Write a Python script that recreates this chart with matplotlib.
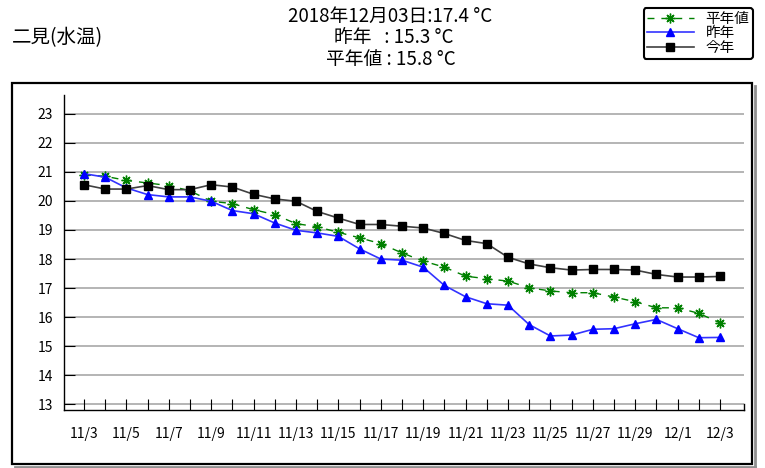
import matplotlib.pyplot as plt
from matplotlib.patches import Rectangle
from matplotlib.lines import Line2D
import numpy as np

plt.rcParams['font.family'] = ['Noto Sans CJK JP', 'DejaVu Sans']

dates = ['11/3', '11/4', '11/5', '11/6', '11/7', '11/8', '11/9', '11/10', '11/11', '11/12',
         '11/13', '11/14', '11/15', '11/16', '11/17', '11/18', '11/19', '11/20', '11/21', '11/22',
         '11/23', '11/24', '11/25', '11/26', '11/27', '11/28', '11/29', '11/30', '12/1', '12/2', '12/3']

heinen = [20.90, 20.85, 20.71, 20.62, 20.53, 20.35, 19.99, 19.91, 19.70, 19.53,
          19.22, 19.11, 18.92, 18.73, 18.53, 18.21, 17.93, 17.72, 17.41, 17.32,
          17.24, 17.01, 16.90, 16.84, 16.84, 16.69, 16.53, 16.32, 16.32, 16.13, 15.8]

sakunen = [20.94, 20.82, 20.45, 20.22, 20.14, 20.14, 19.99, 19.67, 19.56, 19.24,
           18.99, 18.90, 18.78, 18.35, 18.00, 17.96, 17.72, 17.09, 16.70, 16.46,
           16.41, 15.74, 15.35, 15.38, 15.58, 15.60, 15.77, 15.92, 15.60, 15.29, 15.3]

konnen = [20.56, 20.41, 20.41, 20.53, 20.39, 20.39, 20.56, 20.48, 20.23, 20.07,
          19.99, 19.64, 19.41, 19.19, 19.19, 19.13, 19.07, 18.88, 18.64, 18.53,
          18.06, 17.83, 17.70, 17.62, 17.64, 17.64, 17.62, 17.47, 17.38, 17.38, 17.4]

yticks = list(range(13, 24))

fig = plt.figure(figsize=(7.65, 4.68), dpi=100)
ax = fig.add_axes([64/765, 1 - 410/468, (744 - 64)/765, (410 - 95)/468])

x = np.arange(len(dates))

for yv in yticks:
    ax.axhline(yv, color='#a8a8a8', lw=1.2, zorder=0)

l1, = ax.plot(x, heinen, color='#008000', ls=(0, (5, 5)), lw=1, marker=(8, 2, 0),
              ms=7, mec='#008000', mew=1, label='平年値')
l2, = ax.plot(x, sakunen, color='#3333ff', lw=1.2, marker='^', ms=6,
              mfc='#0000ff', mec='#0000ff', label='昨年')
l3, = ax.plot(x, konnen, color='#404040', lw=1.2, marker='s', ms=5.5,
              mfc='black', mec='black', label='今年')

ax.set_xlim(-0.94, 31.13)
ax.set_ylim(12.8, 23.65)
ax.set_yticks(yticks)
ax.set_xticks(x)
ax.set_xticklabels([d if i % 2 == 0 else '' for i, d in enumerate(dates)])
ax.tick_params(axis='y', direction='in', length=8, labelsize=10, pad=8)
ax.tick_params(axis='x', direction='in', length=8, labelsize=10, pad=12)
for s in ['top', 'right']:
    ax.spines[s].set_visible(False)
ax.spines['left'].set_linewidth(1)
ax.spines['bottom'].set_linewidth(1)
ax.plot([31.13, 31.13], [12.8, 13], color='black', lw=1, clip_on=False)

fig.text(12/765, 1 - 38/468, '二見(水温)', fontsize=14, va='center', ha='left')
fig.text(390/765, 1 - 16/468, '2018年12月03日:17.4 °C', fontsize=13.5, va='center', ha='center')
fig.text(394/765, 1 - 38/468, '昨年   : 15.3 °C', fontsize=13.5, va='center', ha='center')
fig.text(391/765, 1 - 60/468, '平年値 : 15.8 °C', fontsize=13.5, va='center', ha='center')

leg = fig.legend(handles=[l1, l2, l3], loc='upper right',
                 bbox_to_anchor=(753/765, 1 - 8/468), fontsize=10.5,
                 handlelength=3.2, labelspacing=0.05, borderpad=0.25,
                 handletextpad=0.8, borderaxespad=0, fancybox=True, framealpha=1)
leg.get_frame().set_edgecolor('black')
leg.get_frame().set_linewidth(1.5)

# outer frame with a small shadow on the right and bottom
fig.lines.append(Line2D([755/765, 755/765], [1 - 467/468, 1 - 86/468],
                        transform=fig.transFigure, color='#909090', lw=2))
fig.lines.append(Line2D([15/765, 755/765], [1 - 467/468, 1 - 467/468],
                        transform=fig.transFigure, color='#909090', lw=2))
fig.patches.append(Rectangle((12/765, 1 - 464/468), 740/765, 381/468,
                             transform=fig.transFigure, fill=False,
                             edgecolor='black', lw=1.6))

fig.savefig('out.png', dpi=100)
